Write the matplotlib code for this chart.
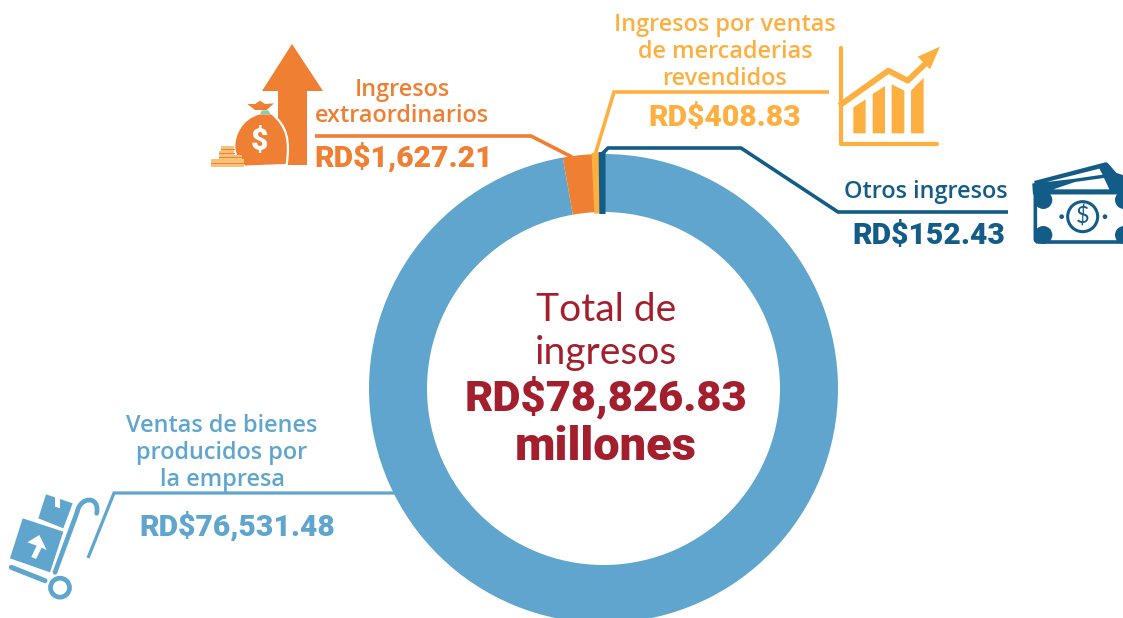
import matplotlib
matplotlib.use("Agg")
import matplotlib.pyplot as plt
from matplotlib.patches import Polygon, Circle, PathPatch, FancyBboxPatch
from matplotlib.path import Path

W, H = 1123, 618
BLUE, ORANGE, YELLOW, NAVY, RED = "#5FA5CD", "#EF7F32", "#FDB040", "#135C88", "#A31F2E"

categories = ["Ventas de bienes\nproducidos por\nla empresa", "Ingresos\nextraordinarios",
              "Ingresos por ventas\nde mercaderias\nrevendidos", "Otros ingresos"]
values = [76531.48, 1627.21, 408.83, 152.43]
value_labels = ["RD$76,531.48", "RD$1,627.21", "RD$408.83", "RD$152.43"]
colors = [BLUE, ORANGE, YELLOW, NAVY]

fig = plt.figure(figsize=(W / 100, H / 100), dpi=100, facecolor="white")
ax = fig.add_axes([0, 0, 1, 1])

R = 234.5
wedges, _ = ax.pie(values, colors=colors, startangle=90.0, counterclock=False,
                   radius=R, center=(603.5, H - 388.5),
                   wedgeprops=dict(width=58, linewidth=0))
wedges[2].set_edgecolor(YELLOW)
wedges[2].set_linewidth(2.0)
wedges[3].set_edgecolor(NAVY)
wedges[3].set_linewidth(2.9)
ax.set_xlim(0, W)
ax.set_ylim(0, H)
ax.set_aspect("equal")
ax.axis("off")


def P(pts, ox=0, oy=0, s=1):
    return [(ox + x / s, H - (oy + y / s)) for x, y in pts]


def line(pts, c, lw=3.6, z=3, **kw):
    xs, ys = zip(*P(pts))
    ax.plot(xs, ys, color=c, lw=lw * 0.72, solid_joinstyle="miter", solid_capstyle="butt", zorder=z, **kw)


def poly(pts, c, ox=0, oy=0, s=1, z=4, **kw):
    ax.add_patch(Polygon(P(pts, ox, oy, s), closed=True, fc=c, ec="none", zorder=z, **kw))


def txt(x, y, s, c, size, weight, fam):
    ax.text(x, H - y, s, color=c, fontsize=size * 0.72, fontweight=weight, family=fam,
            ha="center", va="center", zorder=6)


LABEL = ["Open Sans", "DejaVu Sans"]
BOLD = ["Roboto", "DejaVu Sans"]
LIGHT = ["Lato", "DejaVu Sans"]

# Leader lines
line([(315, 136), (531, 136), (572, 157)], ORANGE)
line([(829, 92), (614, 92), (595, 155)], YELLOW)
line([(602, 155), (602, 154), (608, 148), (741, 148), (838, 212), (1008, 212)], NAVY)
line([(397, 493), (114, 493), (88, 558)], BLUE, lw=3.2)

# Labels
for y, s in zip((90, 116), categories[1].split("\n")):
    txt(402, y, s, ORANGE, 23.5, "semibold", LABEL)
txt(404, 157, value_labels[1], ORANGE, 30, "black", BOLD)
for y, s in zip((25, 52, 79), categories[2].split("\n")):
    txt(725, y, s, YELLOW, 23.5, "semibold", LABEL)
txt(725, 118, value_labels[2], YELLOW, 30, "black", BOLD)
txt(926, 192, categories[3], NAVY, 23.5, "semibold", LABEL)
txt(929, 236, value_labels[3], NAVY, 30, "black", BOLD)
for y, s in zip((426, 453, 480), categories[0].split("\n")):
    txt(222, y, s, BLUE, 23.5, "semibold", LABEL)
txt(237, 526, value_labels[0], BLUE, 30, "black", BOLD)

# Centre text
txt(606, 310, "Total de", RED, 39, "normal", LIGHT)
txt(606, 353, "ingresos", RED, 39, "normal", LIGHT)
txt(606, 398, "RD$78,826.83", RED, 43.5, "black", BOLD)
txt(606, 447, "millones", RED, 47, "black", BOLD)

# Icon: arrow and money bag
poly([(292, 44), (323, 91), (307, 91), (307, 165), (278, 165), (278, 91), (262, 91)], ORANGE, z=4)
o = (200, 30, 3)
bag = Path(P([(180, 250), (120, 265), (103, 320), (103, 345), (100, 385), (135, 410), (135, 410),
              (260, 405), (260, 405), (270, 330), (262, 290), (215, 250), (215, 250), (180, 250)], *o),
           [Path.MOVETO, Path.CURVE4, Path.CURVE4, Path.CURVE4, Path.CURVE4, Path.CURVE4, Path.CURVE4,
            Path.LINETO, Path.LINETO, Path.CURVE4, Path.CURVE4, Path.CURVE4, Path.LINETO, Path.LINETO])
ax.add_patch(PathPatch(bag, fc=ORANGE, ec="white", lw=1.6, zorder=5))
poly([(142, 222), (165, 222), (180, 212), (195, 222), (222, 220), (200, 240), (165, 240)], ORANGE, *o, z=5)
poly([(180, 253), (185, 241), (205, 241), (212, 253)], "#8FC9A8", *o, z=5)
txt(260, 142, "$", "white", 30, "black", BOLD)
for x0, y0, x1, y1 in [(33, 388, 133, 412), (58, 375, 125, 388), (58, 362, 103, 375), (62, 349, 103, 362)]:
    poly([(x0, y0), (x1, y0), (x1, y1), (x0, y1)], "#F8C27A", *o, z=6)
    ax.plot(*zip(*P([(x0, (y0 + y1) / 2), (x1, (y0 + y1) / 2)], *o)), color=ORANGE, lw=0.7, zorder=7)

# Icon: growth chart
o = (825, 30, 3)
xs, ys = zip(*P([(47, 53), (47, 341), (335, 341)], *o))
ax.plot(xs, ys, color=YELLOW, lw=3, solid_joinstyle="round", solid_capstyle="round", zorder=4)
for x0, x1, t0, t1 in [(85, 122, 232, 208), (143, 180, 192, 168), (200, 238, 163, 182), (258, 296, 182, 143)]:
    poly([(x0, t0), (x1, t1), (x1, 310), (x0, 310)], YELLOW, *o)
xs, ys = zip(*P([(50, 222), (190, 122), (248, 152), (315, 88)], *o))
ax.plot(xs, ys, color=YELLOW, lw=4.2, solid_joinstyle="round", zorder=4)
poly([(345, 50), (278, 80), (315, 118)], YELLOW, *o)

# Icon: banknotes
o = (1020, 150, 3)
ax.add_patch(PathPatch(Path(P([(44, 100), (258, 44), (285, 75), (330, 90), (330, 130), (46, 130), (44, 100)], *o)),
                       fc=NAVY, ec=NAVY, lw=3.5, joinstyle="round", zorder=4))
poly([(80, 96), (238, 56), (248, 74), (165, 86)], "white", *o, z=5)
poly([(100, 118), (165, 96), (252, 84), (268, 118)], "white", *o, z=5)
x0, y0 = P([(46, 276)], *o)[0]
ax.add_patch(FancyBboxPatch((x0, y0), 100, 148 / 3, boxstyle="round,pad=0,rounding_size=3",
                            fc="white", ec=NAVY, lw=2.6, zorder=5))
for cx, cy, r in [(70, 150, 27), (70, 255, 27), (312, 150, 27), (312, 255, 27), (125, 200, 7), (255, 200, 7)]:
    ax.add_patch(Circle(P([(cx, cy)], *o)[0], r / 3, fc=NAVY, ec="none", zorder=6))
ax.add_patch(Circle(P([(188, 200)], *o)[0], 15, fc="white", ec=NAVY, lw=2.2, zorder=6))
ax.text(1082.5, H - 216.5, "$", color=NAVY, fontsize=17, family=LIGHT, ha="center", va="center", zorder=7)

# Icon: hand truck
o = (0, 485, 3)
poly([(68, 100), (190, 140), (150, 262), (30, 220)], BLUE, *o)
poly([(138, 28), (165, 37), (165, 65), (180, 70), (180, 42), (218, 55), (190, 130), (115, 100)], BLUE, *o)
poly([(118, 150), (140, 195), (125, 188), (108, 222), (94, 216), (110, 182), (82, 172)], "white", *o, z=5)
truck = Path(P([(165, 262), (232, 80), (240, 35), (300, 30), (290, 85)], *o),
             [Path.MOVETO, Path.LINETO, Path.CURVE4, Path.CURVE4, Path.CURVE4])
ax.add_patch(PathPatch(truck, fc="none", ec=BLUE, lw=3.4, capstyle="round", zorder=4))
xs, ys = zip(*P([(34, 247), (135, 287)], *o))
ax.plot(xs, ys, color=BLUE, lw=3.6, solid_capstyle="round", zorder=4)
ax.add_patch(Circle(P([(180, 308)], *o)[0], 9.5, fc="white", ec=BLUE, lw=3.4, zorder=5))

fig.savefig("out.png", dpi=100, facecolor="white")
